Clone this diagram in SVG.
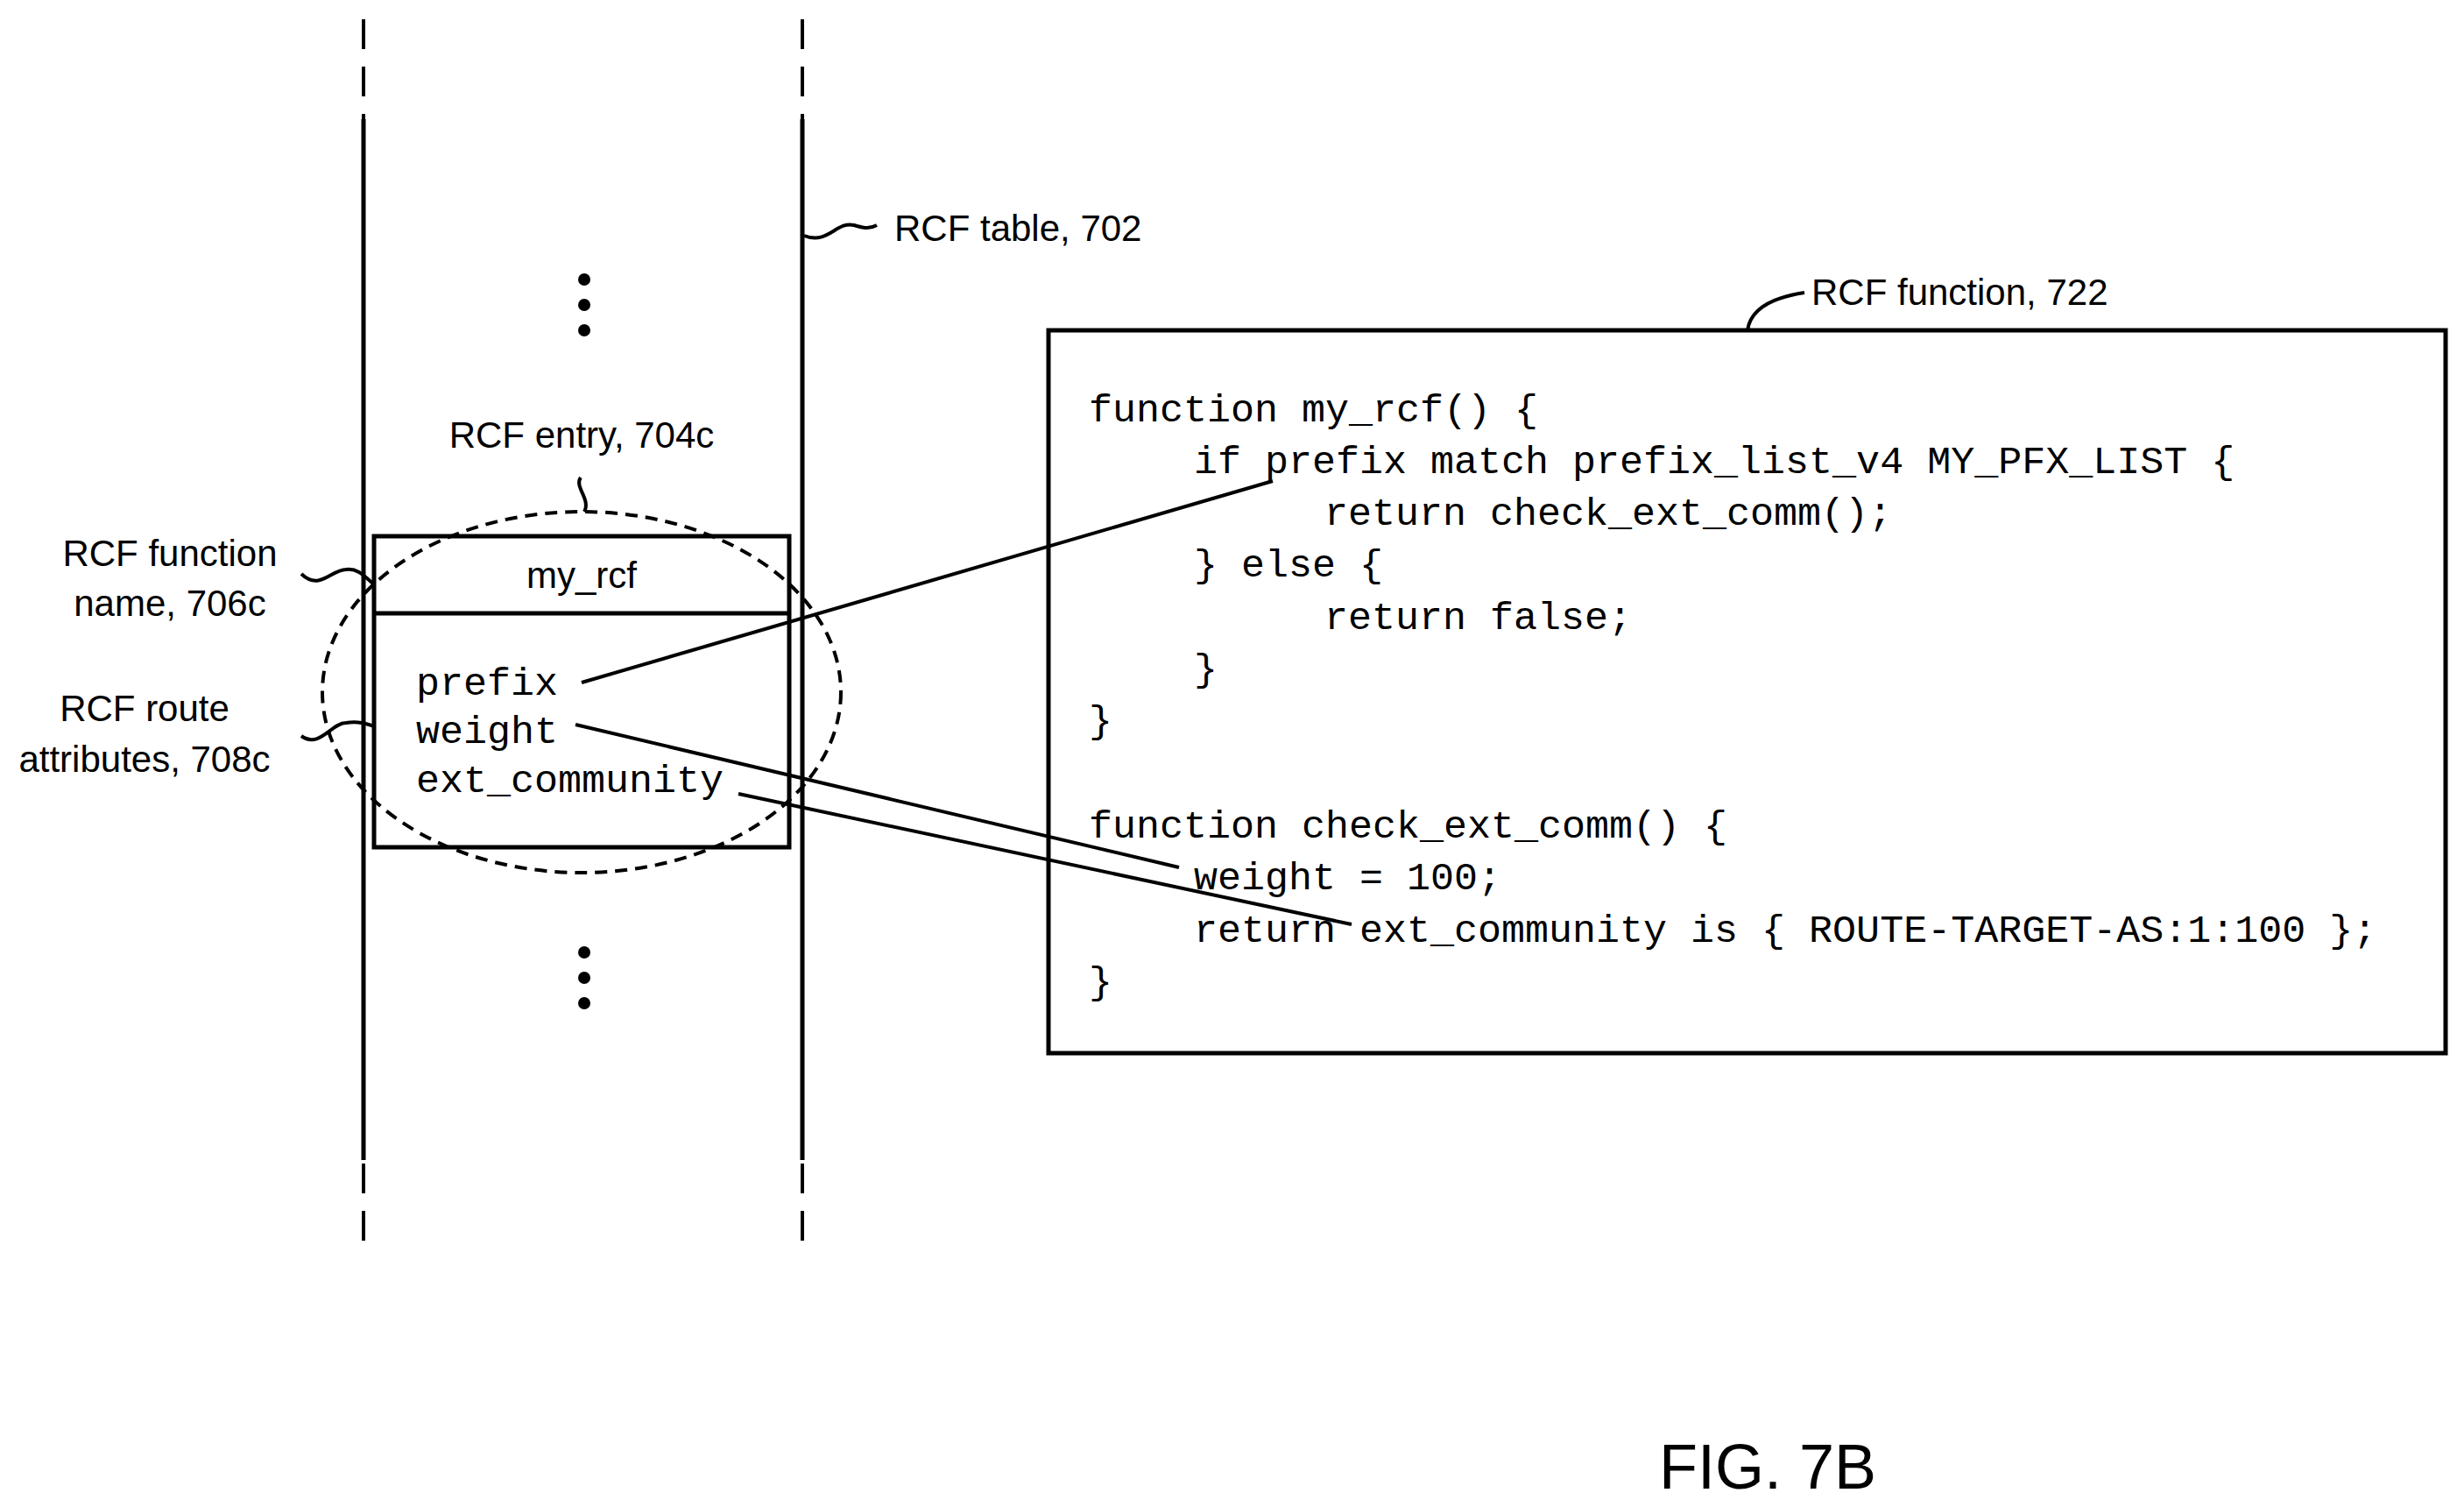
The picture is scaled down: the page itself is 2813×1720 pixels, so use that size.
<svg xmlns="http://www.w3.org/2000/svg" width="2813" height="1720" viewBox="0 0 2813 1720">
<style>
.l{stroke:#000;stroke-width:5;fill:none}
.d{stroke:#000;stroke-width:4;fill:none;stroke-dasharray:34 20}
.s{stroke:#000;stroke-width:4;fill:none}
.t{font-family:"Liberation Sans",Arial,sans-serif;font-size:42px;fill:#000}
.m{font-family:"Liberation Mono","Courier New",monospace;font-size:45px;fill:#000}
</style>
<rect width="2813" height="1720" fill="#fff"/>
<g id="table">
<line class="l" x1="415" y1="136" x2="415" y2="1324"/>
<line class="l" x1="916" y1="136" x2="916" y2="1324"/>
<line class="d" x1="415" y1="22" x2="415" y2="136"/>
<line class="d" x1="916" y1="22" x2="916" y2="136"/>
<line class="d" x1="415" y1="1328" x2="415" y2="1435"/>
<line class="d" x1="916" y1="1328" x2="916" y2="1435"/>
<circle cx="667" cy="319" r="7"/><circle cx="667" cy="348" r="7"/><circle cx="667" cy="377" r="7"/>
<circle cx="667" cy="1087" r="7"/><circle cx="667" cy="1116" r="7"/><circle cx="667" cy="1145" r="7"/>
<path class="s" d="M918 269 C945 280 955 252 975 257 C985 260 992 262 1001 257"/>
<text class="t" x="1021" y="275">RCF table, 702</text>
</g>
<g id="entry">
<rect class="l" x="427" y="612" width="474" height="355"/>
<line class="l" x1="427" y1="700" x2="901" y2="700"/>
<text class="t" x="664" y="671" text-anchor="middle">my_rcf</text>
<text class="m" x="475" y="793">prefix</text>
<text class="m" x="475" y="848">weight</text>
<text class="m" x="475" y="904">ext_community</text>
<ellipse cx="664" cy="790" rx="296" ry="206" class="s" stroke-dasharray="14 9"/>
<path class="s" d="M667 584 C675 570 655 555 663 545"/>
<text class="t" x="664" y="511" text-anchor="middle">RCF entry, 704c</text>
</g>
<g id="labels">
<text class="t" x="194" y="646" text-anchor="middle">RCF function</text>
<text class="t" x="194" y="703" text-anchor="middle">name, 706c</text>
<path class="s" d="M344 655 C365 675 378 650 395 650 C410 648 418 660 427 667"/>
<text class="t" x="165" y="823" text-anchor="middle">RCF route</text>
<text class="t" x="165" y="881" text-anchor="middle">attributes, 708c</text>
<path class="s" d="M344 840 C365 855 378 825 395 825 C410 823 418 826 427 829"/>
</g>
<g id="function">
<rect class="l" x="1197" y="377" width="1595" height="825"/>
<path class="s" d="M1995 377 C1998 355 2020 340 2060 334"/>
<text class="t" x="2068" y="348">RCF function, 722</text>
<g class="m" xml:space="preserve">
<text x="1243" y="481">function my_rcf() {</text>
<text x="1363" y="540">if prefix match prefix_list_v4 MY_PFX_LIST {</text>
<text x="1512" y="599">return check_ext_comm();</text>
<text x="1363" y="658">} else {</text>
<text x="1512" y="718">return false;</text>
<text x="1363" y="777">}</text>
<text x="1243" y="836">}</text>
<text x="1243" y="956">function check_ext_comm() {</text>
<text x="1363" y="1015">weight = 100;</text>
<text x="1363" y="1075">return ext_community is { ROUTE-TARGET-AS:1:100 };</text>
<text x="1243" y="1134">}</text>
</g>
</g>
<g id="connectors">
<line class="s" x1="664" y1="779" x2="1453" y2="549"/>
<line class="s" x1="657" y1="827" x2="1346" y2="990"/>
<line class="s" x1="843" y1="906" x2="1543" y2="1055"/>
</g>
<text class="t" x="1894" y="1699" style="font-size:72px">FIG. 7B</text>
</svg>
